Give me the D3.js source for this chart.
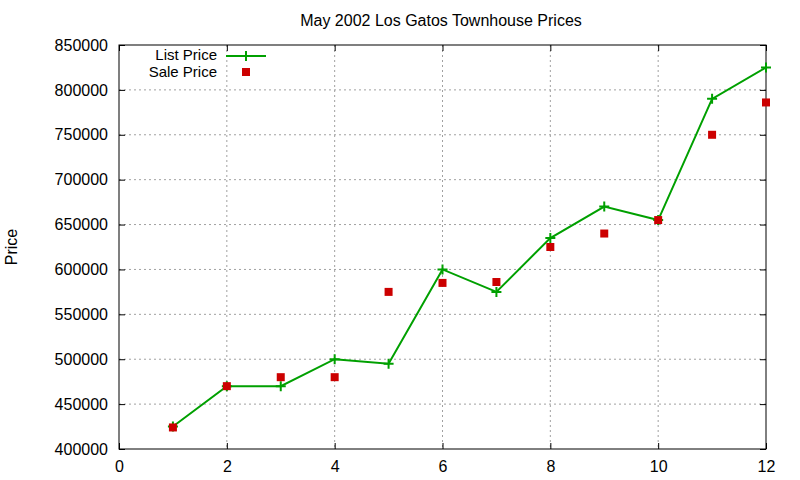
<!DOCTYPE html>
<html>
<head>
<meta charset="utf-8">
<script src="https://cdn.jsdelivr.net/npm/d3@7"></script>
<style>
  body { margin: 0; background: #fff; }
  text { font-family: "Liberation Sans", Arial, sans-serif; fill: #000; }
</style>
</head>
<body>
<div id="chart"></div>
<script>
// data
var months = [1, 2, 3, 4, 5, 6, 7, 8, 9, 10, 11, 12];
var listPrice = [425000, 470000, 470000, 500000, 495000, 600000, 575000, 635000, 670000, 655000, 790000, 825000];
var salePrice = [424000, 470000, 480000, 480000, 575000, 585000, 586000, 625000, 640000, 655000, 750000, 786000];
var xTicks = [0, 2, 4, 6, 8, 10, 12];
var yTicks = [400000, 450000, 500000, 550000, 600000, 650000, 700000, 750000, 800000, 850000];

var W = 800, H = 480;
var margin = { top: 45, right: 34, bottom: 31, left: 119 },
    width = W - margin.left - margin.right,
    height = H - margin.top - margin.bottom;

var svg = d3.select("#chart").append("svg")
    .attr("width", W)
    .attr("height", H);

var x = d3.scaleLinear().domain([0, 12]).range([0, width]);
var y = d3.scaleLinear().domain([400000, 850000]).range([height, 0]);

var g = svg.append("g")
    .attr("transform", "translate(" + margin.left + "," + margin.top + ")");

// grid
g.append("g").selectAll("line")
    .data(xTicks.slice(1, -1))
    .enter().append("line")
    .attr("x1", d => x(d)).attr("x2", d => x(d))
    .attr("y1", 0).attr("y2", height)
    .attr("stroke", "#a0a0a0").attr("stroke-dasharray", "2,3");
g.append("g").selectAll("line")
    .data(yTicks.slice(1, -1))
    .enter().append("line")
    .attr("y1", d => y(d)).attr("y2", d => y(d))
    .attr("x1", 0).attr("x2", width)
    .attr("stroke", "#a0a0a0").attr("stroke-dasharray", "2,3");

// axes, gnuplot style: ticks inward on all four sides
var tk = 6;
g.append("g")
    .attr("transform", "translate(0," + height + ")")
    .call(d3.axisBottom(x).tickValues(xTicks).tickSize(-tk).tickPadding(tk + 6))
    .call(a => a.select(".domain").remove())
    .call(a => a.selectAll("text").style("font-size", "16px"));
g.append("g")
    .call(d3.axisTop(x).tickValues(xTicks).tickSize(-tk).tickFormat(""))
    .call(a => a.select(".domain").remove());
g.append("g")
    .call(d3.axisLeft(y).tickValues(yTicks).tickSize(-tk).tickPadding(tk + 5).tickFormat(d3.format("d")))
    .call(a => a.select(".domain").remove())
    .call(a => a.selectAll("text").style("font-size", "16px"));
g.append("g")
    .attr("transform", "translate(" + width + ",0)")
    .call(d3.axisRight(y).tickValues(yTicks).tickSize(-tk).tickFormat(""))
    .call(a => a.select(".domain").remove());

g.append("rect")
    .attr("width", width).attr("height", height)
    .attr("fill", "none").attr("stroke", "#000").attr("stroke-width", 1);

// list price line
var line = d3.line()
    .x((d, i) => x(months[i]))
    .y(d => y(d));

g.append("path")
    .datum(listPrice)
    .attr("d", line)
    .attr("fill", "none")
    .attr("stroke", "#00a000")
    .attr("stroke-width", 2);

g.append("g").selectAll("path")
    .data(listPrice)
    .enter().append("path")
    .attr("d", "M-5,0H5M0,-5V5")
    .attr("transform", (d, i) => "translate(" + x(months[i]) + "," + y(d) + ")")
    .attr("stroke", "#00a000")
    .attr("stroke-width", 2);

// sale price points
g.append("g").selectAll("rect")
    .data(salePrice)
    .enter().append("rect")
    .attr("x", (d, i) => x(months[i]) - 4)
    .attr("y", d => y(d) - 4)
    .attr("width", 8).attr("height", 8)
    .attr("fill", "#cc0000");

// legend
var legend = svg.append("g");
legend.append("text").attr("x", 217).attr("y", 60).attr("text-anchor", "end")
    .style("font-size", "15px").text("List Price");
legend.append("line").attr("x1", 226).attr("x2", 266).attr("y1", 56).attr("y2", 56)
    .attr("stroke", "#00a000").attr("stroke-width", 2);
legend.append("path").attr("d", "M-5,0H5M0,-5V5")
    .attr("transform", "translate(246,56)")
    .attr("stroke", "#00a000").attr("stroke-width", 2);
legend.append("text").attr("x", 217).attr("y", 77).attr("text-anchor", "end")
    .style("font-size", "15px").text("Sale Price");
legend.append("rect").attr("x", 242).attr("y", 68).attr("width", 8).attr("height", 8)
    .attr("fill", "#cc0000");

// title and y label
svg.append("text")
    .attr("x", 441).attr("y", 26)
    .attr("text-anchor", "middle")
    .style("font-size", "16px")
    .text("May 2002 Los Gatos Townhouse Prices");

svg.append("text")
    .attr("transform", "translate(17,247) rotate(-90)")
    .attr("text-anchor", "middle")
    .style("font-size", "16px")
    .text("Price");
</script>
</body>
</html>
